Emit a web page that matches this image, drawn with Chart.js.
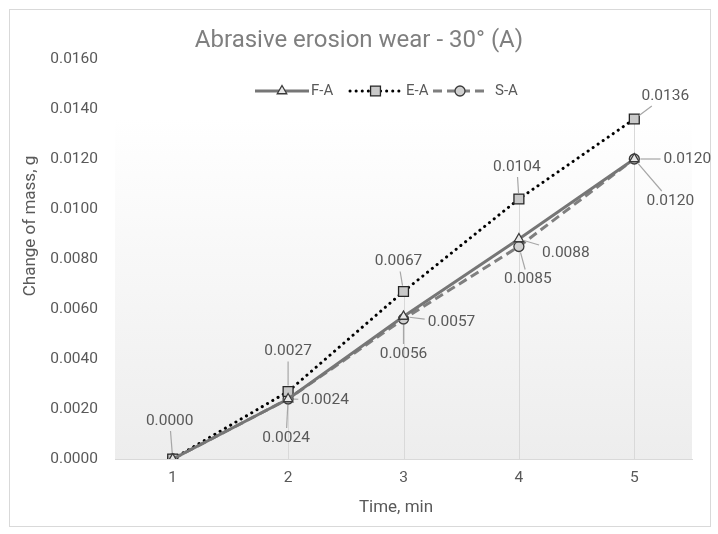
<!doctype html>
<html>

<head>
	<title>Abrasive erosion wear</title>
	<script src="https://cdn.jsdelivr.net/npm/chart.js@4.4.1/dist/chart.umd.min.js"></script>
	<style>
		html, body { margin: 0; padding: 0; background: #fff; }
		#holder { width: 718px; height: 534px; }
	</style>
</head>

<body>
	<div id="holder">
		<canvas id="chart-area"></canvas>
	</div>
	<script>
		var timeLabels = ['1', '2', '3', '4', '5'];
		var faValues = [0.0000, 0.0024, 0.0057, 0.0088, 0.0120];
		var eaValues = [0.0000, 0.0027, 0.0067, 0.0104, 0.0136];
		var saValues = [0.0000, 0.0024, 0.0056, 0.0085, 0.0120];

		// where each value label sits relative to its point (null = hidden, overlaps)
		var labelOffsets = [
			[null, [37, 1], [48, 6], [47, 14], [53, 0]],
			[[-3, -38], [0, -40], [-5, -30], [-2, -32], [31, -23]],
			[null, [-2, 39], [0, 35], [9, 33], [36, 42]]
		];

		var FONT = 'Roboto, "Liberation Sans", sans-serif';
		var TEXT = '#595959';

		var bgPlugin = {
			id: 'bg',
			beforeDraw: function (chart) {
				var ctx = chart.ctx, a = chart.chartArea;
				ctx.save();
				ctx.fillStyle = '#fff';
				ctx.fillRect(0, 0, chart.width, chart.height);
				ctx.strokeStyle = '#d9d9d9';
				ctx.lineWidth = 1;
				ctx.strokeRect(9.5, 9.5, 701, 517);
				var g = ctx.createLinearGradient(0, a.top, 0, a.bottom);
				g.addColorStop(0, '#ffffff');
				g.addColorStop(0.15, '#ffffff');
				g.addColorStop(1, '#ededed');
				ctx.fillStyle = g;
				ctx.fillRect(a.left, a.top, a.right - a.left, a.bottom - a.top);

				// chart title and axis titles
				ctx.textAlign = 'center';
				ctx.textBaseline = 'middle';
				ctx.fillStyle = '#7f7f7f';
				ctx.font = '24px ' + FONT;
				ctx.fillText('Abrasive erosion wear - 30° (A)', 359, 41);
				ctx.fillStyle = TEXT;
				ctx.font = '17px ' + FONT;
				ctx.fillText('Time, min', 396, 508);
				ctx.translate(31, 226);
				ctx.rotate(-Math.PI / 2);
				ctx.fillText('Change of mass, g', 0, 0);
				ctx.restore();
			},
			beforeDatasetsDraw: function (chart) {
				// drop lines from the highest point down to the axis
				var ctx = chart.ctx, a = chart.chartArea;
				var metas = chart.data.datasets.map(function (d, i) { return chart.getDatasetMeta(i); });
				ctx.save();
				ctx.strokeStyle = '#d9d9d9';
				ctx.lineWidth = 1;
				for (var i = 0; i < timeLabels.length; i++) {
					var top = a.bottom, x = metas[0].data[i].x;
					metas.forEach(function (m) { top = Math.min(top, m.data[i].y); });
					ctx.beginPath();
					ctx.moveTo(Math.round(x) + 0.5, top);
					ctx.lineTo(Math.round(x) + 0.5, a.bottom);
					ctx.stroke();
				}
				ctx.restore();
			}
		};

		var labelPlugin = {
			id: 'valueLabels',
			afterDatasetsDraw: function (chart) {
				var ctx = chart.ctx;
				ctx.save();
				ctx.font = '15.5px ' + FONT;
				ctx.textAlign = 'center';
				ctx.textBaseline = 'middle';
				chart.data.datasets.forEach(function (ds, di) {
					var meta = chart.getDatasetMeta(di);
					ds.data.forEach(function (v, i) {
						var off = labelOffsets[di][i];
						if (!off) return;
						var p = meta.data[i];
						var txt = v.toFixed(4);
						var lx = p.x + off[0], ly = p.y + off[1];
						var hw = ctx.measureText(txt).width / 2 + 3, hh = 10;
						// leader line from point to the label box edge
						var dx = lx - p.x, dy = ly - p.y;
						var t = Math.min(Math.abs(dx) > 0 ? hw / Math.abs(dx) : 1e9, Math.abs(dy) > 0 ? hh / Math.abs(dy) : 1e9);
						var len = Math.sqrt(dx * dx + dy * dy);
						var ex = lx - dx * t, ey = ly - dy * t;
						var s = 6 / len;
						var sx = p.x + dx * s, sy = p.y + dy * s;
						if ((1 - t - s) * len > 4) {
							ctx.strokeStyle = '#a6a6a6';
							ctx.lineWidth = 1.2;
							ctx.beginPath();
							ctx.moveTo(sx, sy);
							ctx.lineTo(ex, ey);
							ctx.stroke();
						}
						ctx.fillStyle = TEXT;
						ctx.fillText(txt, lx, ly);
					});
				});
				ctx.restore();
			},
			afterDraw: function (chart) {
				// legend: line + marker like the spreadsheet one
				var ctx = chart.ctx, y = 91;
				var items = [
					{ x0: 255, x1: 309, tx: 311, ds: chart.data.datasets[0] },
					{ x0: 350, x1: 401, tx: 406, ds: chart.data.datasets[1] },
					{ x0: 433, x1: 487, tx: 495, ds: chart.data.datasets[2] }
				];
				ctx.save();
				items.forEach(function (it) {
					var d = it.ds;
					ctx.strokeStyle = d.borderColor;
					ctx.lineWidth = d.borderWidth;
					ctx.lineCap = d.borderCapStyle || 'butt';
					ctx.setLineDash(d.borderDash || []);
					ctx.beginPath();
					ctx.moveTo(it.x0, y);
					ctx.lineTo(it.x1, y);
					ctx.stroke();
					ctx.setLineDash([]);
					ctx.fillStyle = d.pointBackgroundColor;
					ctx.strokeStyle = d.pointBorderColor;
					ctx.lineWidth = d.pointBorderWidth;
					Chart.helpers.drawPoint(ctx, {
						pointStyle: d.pointStyle, radius: d.pointRadius, borderWidth: d.pointBorderWidth,
						rotation: 0
					}, (it.x0 + it.x1) / 2, y);
					ctx.fillStyle = TEXT;
					ctx.font = '15px ' + FONT;
					ctx.textAlign = 'left';
					ctx.textBaseline = 'middle';
					ctx.fillText(d.label, it.tx, y);
				});
				ctx.restore();
			}
		};

		var config = {
			type: 'line',
			data: {
				labels: timeLabels,
				datasets: [{
					label: 'F-A',
					data: faValues,
					borderColor: '#767676',
					borderWidth: 3,
					pointStyle: 'triangle',
					pointRadius: 5.5,
					pointBackgroundColor: '#e8e8e8',
					pointBorderColor: '#3a3a3a',
					pointBorderWidth: 1.3
				}, {
					label: 'E-A',
					data: eaValues,
					borderColor: '#000000',
					borderWidth: 3,
					borderDash: [0.1, 6],
					borderCapStyle: 'round',
					pointStyle: 'rect',
					pointRadius: 7,
					pointBackgroundColor: '#c9c9c9',
					pointBorderColor: '#262626',
					pointBorderWidth: 1.3
				}, {
					label: 'S-A',
					data: saValues,
					borderColor: '#7f7f7f',
					borderWidth: 3,
					borderDash: [9, 5],
					pointStyle: 'circle',
					pointRadius: 5,
					pointBackgroundColor: '#d0d0d0',
					pointBorderColor: '#3a3a3a',
					pointBorderWidth: 1.3
				}]
			},
			options: {
				responsive: false,
				animation: false,
				layout: { padding: { top: 59, left: 0, right: 26, bottom: 0 } },
				plugins: {
					legend: { display: false },
					tooltip: { enabled: false },
					title: { display: false }
				},
				scales: {
					x: {
						offset: true,
						grid: { display: false, drawTicks: false },
						border: { display: true, color: '#d9d9d9' },
						ticks: { color: TEXT, font: { family: FONT, size: 15.5 }, padding: 10 },
						afterFit: function (s) { s.height = 75; }
					},
					y: {
						min: 0,
						max: 0.016,
						grid: { display: false, drawTicks: false },
						border: { display: false },
						ticks: {
							stepSize: 0.002,
							color: TEXT,
							font: { family: FONT, size: 15.5 },
							padding: 17,
							callback: function (v) { return v.toFixed(4); }
						},
						afterFit: function (s) { s.width = 115; }
					}
				}
			},
			plugins: [bgPlugin, labelPlugin]
		};

		window.onload = function () {
			var canvas = document.getElementById('chart-area');
			canvas.width = 718;
			canvas.height = 534;
			window.myLine = new Chart(canvas.getContext('2d'), config);
		};
	</script>
</body>

</html>
